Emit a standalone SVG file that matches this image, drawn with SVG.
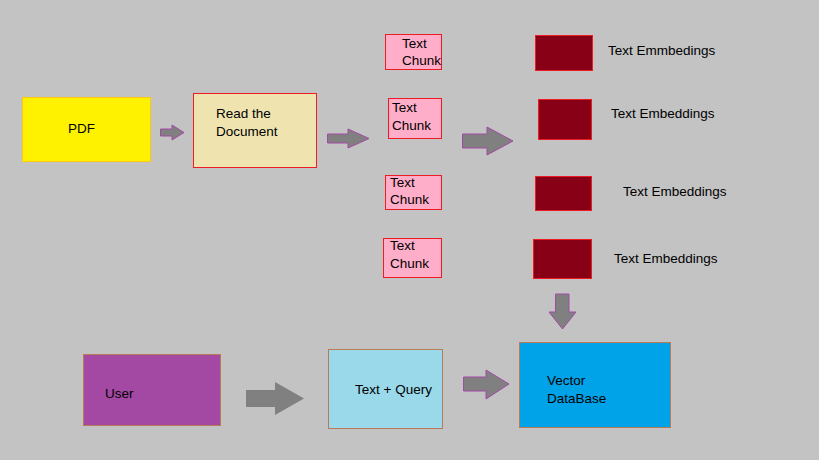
<svg xmlns="http://www.w3.org/2000/svg" width="819" height="460" viewBox="0 0 819 460">
<style>
text{font-family:"Liberation Sans","DejaVu Sans",sans-serif;font-size:13.5px;fill:#000}
.chunk{fill:#FFAEC9;stroke:#ED1C24;stroke-width:1}
.emb{fill:#880015;stroke:#ED1C24;stroke-width:1}
.arr{fill:#808080;stroke:#A349A4;stroke-width:1}
.arrg{fill:#808080;stroke:none}
</style>
<rect width="819" height="460" fill="#C3C3C3"/>
<g id="pdf"><rect x="22.5" y="97.5" width="128" height="64" fill="#FFF200" stroke="#FFC90E"/><text x="68" y="133">PDF</text></g>
<g id="read"><rect x="193.5" y="93.5" width="123" height="74" fill="#EFE4B0" stroke="#ED1C24"/><text x="216" y="118">Read the</text><text x="216" y="136">Document</text></g>
<g id="chunk1"><rect class="chunk" x="385.5" y="34.5" width="56" height="35"/><text x="402" y="48">Text</text><text x="402" y="65">Chunk</text></g>
<g id="chunk2"><rect class="chunk" x="388.5" y="98.5" width="53" height="40"/><text x="392" y="112">Text</text><text x="392" y="130">Chunk</text></g>
<g id="chunk3"><rect class="chunk" x="385.5" y="175.5" width="56" height="34"/><text x="390" y="187">Text</text><text x="390" y="204">Chunk</text></g>
<g id="chunk4"><rect class="chunk" x="383.5" y="238.5" width="58" height="39"/><text x="390" y="250">Text</text><text x="390" y="268">Chunk</text></g>
<g id="emb1"><rect class="emb" x="535.5" y="35.5" width="57" height="35"/><text x="608" y="55">Text Emmbedings</text></g>
<g id="emb2"><rect class="emb" x="538.5" y="99.5" width="53" height="40"/><text x="611" y="118">Text Embeddings</text></g>
<g id="emb3"><rect class="emb" x="535.5" y="176.5" width="56" height="34"/><text x="623" y="196">Text Embeddings</text></g>
<g id="emb4"><rect class="emb" x="533.5" y="239.5" width="58" height="39"/><text x="614" y="263">Text Embeddings</text></g>
<g id="user"><rect x="83.5" y="354.5" width="137" height="71" fill="#A349A4" stroke="#B97A57"/><text x="105" y="398">User</text></g>
<g id="query"><rect x="328.5" y="349.5" width="114" height="79" fill="#99D9EA" stroke="#B97A57"/><text x="355" y="394">Text + Query</text></g>
<g id="vectordb"><rect x="519.5" y="342.5" width="151" height="85" fill="#00A2E8" stroke="#B97A57"/><text x="547" y="385">Vector</text><text x="547" y="403">DataBase</text></g>
<g id="connectors">
<polygon class="arr" points="160.5,129 172,129 172,125 184,132.5 172,140 172,136 160.5,136"/>
<polygon class="arr" points="327.5,134 348,134 348,129 369,138.5 348,148 348,143 327.5,143"/>
<polygon class="arr" points="462.5,134 487,134 487,127 513,141 487,155 487,148 462.5,148"/>
<polygon class="arr" points="555.5,294 569,294 569,312 576,312 562.5,329 549,312 555.5,312"/>
<polygon class="arrg" points="246,390 275,390 275,382 304,398.5 275,415 275,407 246,407"/>
<polygon class="arr" points="463.5,377 486,377 486,370 509,384 486,399 486,391 463.5,391"/>
</g>
</svg>
